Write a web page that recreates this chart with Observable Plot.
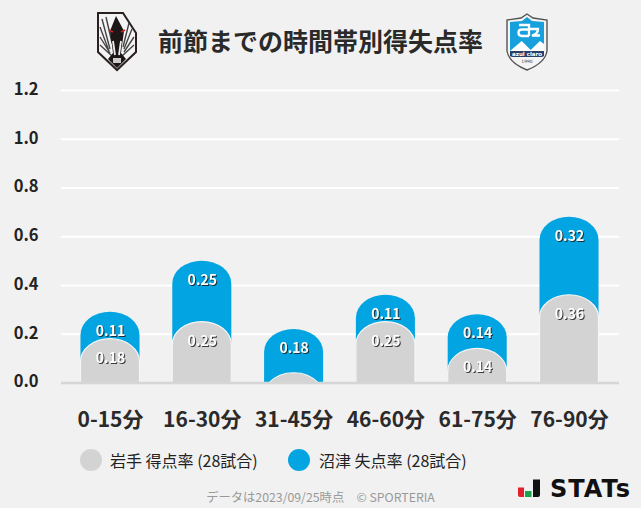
<!DOCTYPE html>
<html lang="ja">
<head>
<meta charset="utf-8">
<script src="https://cdn.jsdelivr.net/npm/d3@7"></script>
<script src="https://cdn.jsdelivr.net/npm/@observablehq/plot@0.6"></script>
<style>
html,body{margin:0;padding:0;background:#f1f1f1;}
#page{position:relative;width:641px;height:508px;overflow:hidden;font-family:"Noto Sans CJK JP","Noto Sans",sans-serif;color:#222;}
#page>*{position:absolute;}
#chart{left:0;top:0;}
#title{left:0;width:641px;top:20px;text-align:center;font-size:25px;font-weight:700;line-height:40px;white-space:nowrap;color:#2a2a2a;}
.dot{width:22px;height:22px;border-radius:50%;top:449px;}
.leg{top:449px;font-size:16px;line-height:22px;white-space:nowrap;color:#222;}
#foot{left:0;width:641px;text-align:center;top:488px;font-size:12.3px;line-height:18px;color:#999;white-space:pre;}
.lab{filter:drop-shadow(1px 1px 0.5px rgba(30,30,30,.85));}
</style>
</head>
<body>
<div id="page">
  <div id="chart"></div>
  <svg style="left:96px;top:11px" width="42" height="61" viewBox="0 0 42 61">
    <path d="M2 2H27L40 22V41L21 59L2 41Z" fill="#f4f4f4" stroke="#2a2020" stroke-width="2"/>
    <path d="M6 8L14 38M10 6L16 32M4 16L13 40M33 12L27 36M36 18L28 38M38 26L28 41M4 26L14 42M38 34L26 45M4 34L16 45" stroke="#444" stroke-width="1.4" fill="none"/>
    <path d="M20 5L28 20L25 42L30 48L21 57L12 48L17 42L14 20Z" fill="#1c1616"/>
    <path d="M13 19L17 21M29 19L25 21" stroke="#c22" stroke-width="1.800"/>
    <path d="M17 30L19 44M25 30L23 44" stroke="#eee" stroke-width="1.800" fill="none"/>
    <rect x="17" y="47" width="8" height="5" fill="#ccc"/>
  </svg>
  <svg style="left:505px;top:13px" width="44" height="58" viewBox="0 0 44 58">
    <path d="M22 1L28 5L42 7V38Q40 50 22 57Q4 50 2 38V7L16 5Z" fill="#f4f4f4" stroke="#555" stroke-width="1.400"/>
    <path d="M22 4L27 8L39 9V38H5V9L17 8Z" fill="#17a0dc"/>
    <path d="M5 38L16.700 28L25.700 37L35 28L39 31V38Z" fill="#fff"/>
    <path d="M5 38H39V43Q38 44 36 44H8Q6 44 5 43Z" fill="#2a3f66"/>
    <path d="M14 12H24V23M24 16.500H17Q13.500 16.500 13.500 19.500Q13.500 23 17 23H24M24 16H33Q33 21 27 22.500H35" stroke="#fff" stroke-width="2.300" fill="none"/>
    <text x="22" y="42.500" text-anchor="middle" font-size="5.500" font-weight="700" fill="#fff" font-family="DejaVu Sans">azul claro</text>
    <text x="22" y="50" text-anchor="middle" font-size="4.500" fill="#345" font-family="DejaVu Sans">1990</text>
  </svg>
  <div id="title">前節までの時間帯別得失点率</div>
  <div class="dot" style="left:80px;background:#d3d3d3"></div>
  <div class="leg" style="left:110px">岩手 得点率 (28試合)</div>
  <div class="dot" style="left:288px;background:#03a4e2"></div>
  <div class="leg" style="left:319px">沼津 失点率 (28試合)</div>
  <div id="foot">データは2023/09/25時点　© SPORTERIA</div>
  <svg style="left:516px;top:474px" width="125" height="30" viewBox="516 474 125 30">
    <path d="M518 487.500H524V497H520Q518 497 518 495Z" fill="#e0202a"/>
    <rect x="525" y="491" width="6.500" height="6" fill="#1aa34a"/>
    <path d="M533 479.500H540V495Q540 497 538 497H533Z" fill="#111"/>
    <text x="550" y="497" font-family="DejaVu Sans" font-weight="700" font-size="24" letter-spacing="1" fill="#111">STATs</text>
  </svg>
</div>
<script>
const periods = ["0-15分","16-30分","31-45分","46-60分","61-75分","76-90分"];
const iwateFor = [0.18,0.25,0.04,0.25,0.14,0.36];
const numazuAgainst = [0.11,0.25,0.18,0.11,0.14,0.32];
const yTicks = [0,0.2,0.4,0.6,0.8,1.0,1.2];

const rows = periods.map((p,i)=>({period:p,gray:iwateFor[i],blue:numazuAgainst[i],total:iwateFor[i]+numazuAgainst[i]}));

// Rounds the tops of the bars Plot has just drawn: same scales, same sizes.
const archTop = (ry) => function(index, scales, values, dimensions, context, next){
  const g = next(index, scales, values, dimensions, context);
  d3.select(g).selectAll("rect").each(function(){
    const r = d3.select(this);
    const x = +r.attr("x"), y = +r.attr("y"), w = +r.attr("width"), h = +r.attr("height");
    const rx = w/2, cx = x+rx;
    let d;
    if (h >= ry) {
      d = `M${x},${y+h}V${y+ry}A${rx},${ry} 0 0 1 ${x+w},${y+ry}V${y+h}Z`;
    } else {
      const hw = rx*Math.sqrt(1-((ry-h)/ry)**2);
      d = `M${cx-hw},${y+h}A${rx},${ry} 0 0 1 ${cx+hw},${y+h}Z`;
    }
    const p = document.createElementNS("http://www.w3.org/2000/svg","path");
    p.setAttribute("d",d);
    this.replaceWith(p);
  });
  return g;
};

const font = '"Noto Sans CJK JP","Noto Sans",sans-serif';
const chart = Plot.plot({
  width:641, height:508,
  marginLeft:61, marginRight:22, marginTop:90, marginBottom:125.5,
  style:{background:"transparent",fontFamily:font,overflow:"visible"},
  x:{domain:periods,range:[47.7,631.3],padding:0.357,align:0.5,round:false,label:null},
  y:{domain:[0,1.2],label:null},
  marks:[
    Plot.ruleY(yTicks.filter(d=>d>0),{stroke:"#fff",strokeWidth:2}),
    Plot.barY(rows,{x:"period",y1:0,y2:"total",fill:"#03a4e2",render:archTop(23)}),
    Plot.barY(rows,{x:"period",y1:0,y2:"gray",fill:"#d3d3d3",stroke:"#f6f6f6",strokeWidth:1.2,render:archTop(23)}),
    Plot.ruleY([0],{stroke:"#d6d6d6",strokeWidth:2.5}),
    Plot.text(rows,{x:"period",y:"total",text:d=>d.blue.toFixed(2),dy:19,fill:"#fff",fontSize:14,fontWeight:700,className:"lab"}),
    Plot.text(rows.filter(d=>d.gray>=0.1),{x:"period",y:"gray",text:d=>d.gray.toFixed(2),dy:19,fill:"#fff",fontSize:14,fontWeight:700,className:"lab"}),
    Plot.axisY({ticks:yTicks,tickFormat:d3.format(".1f"),tickSize:0,tickPadding:23,dy:-1,fontSize:16.5,fontWeight:700,fill:"#222",label:null}),
    Plot.axisX({tickSize:0,tickPadding:29.5,fontSize:21,fontWeight:700,fill:"#2a2a2a",label:null})
  ]
});
document.getElementById("chart").append(chart);
</script>
</body>
</html>
